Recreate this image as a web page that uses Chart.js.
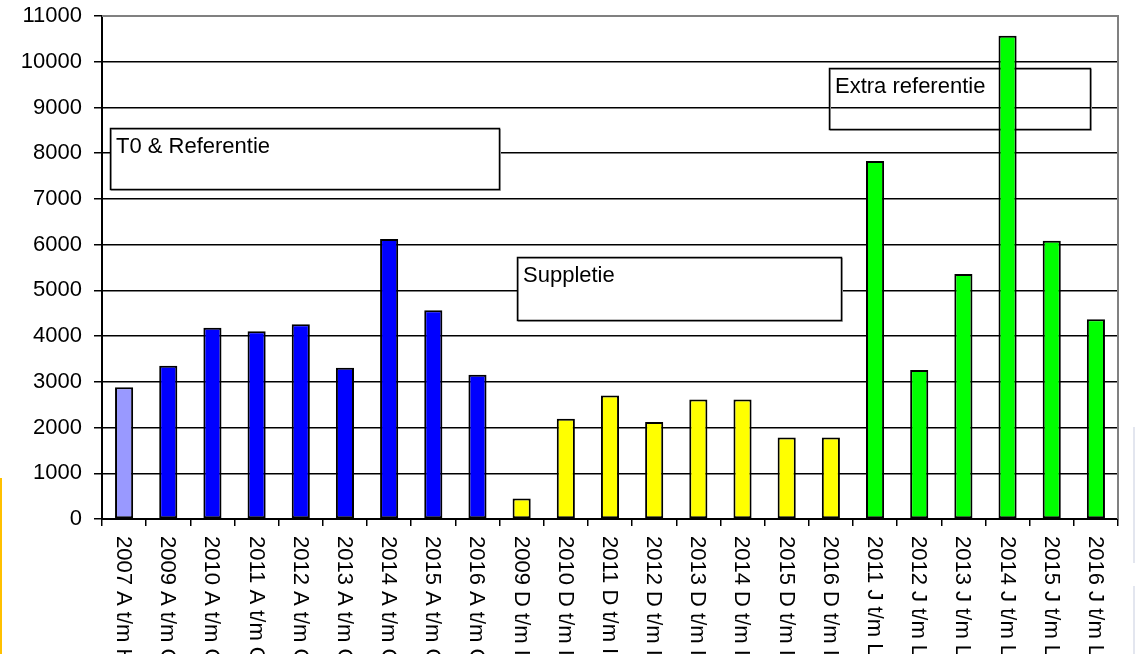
<!DOCTYPE html>
<html>
<head>
<meta charset="utf-8">
<script src="https://cdn.jsdelivr.net/npm/chart.js@4/dist/chart.umd.min.js"></script>
<style>
  html, body { margin: 0; padding: 0; background: #fff; }
  #wrap { position: relative; width: 1135px; height: 654px; overflow: hidden; }
  canvas { display: block; }
</style>
</head>
<body>
<div id="wrap"><canvas id="c" width="1135" height="654"></canvas></div>
<script>
// ---- data ----
const categories = [
  "2007 A t/m H", "2009 A t/m O", "2010 A t/m O", "2011 A t/m O", "2012 A t/m O",
  "2013 A t/m O", "2014 A t/m O", "2015 A t/m O", "2016 A t/m O",
  "2009 D t/m I", "2010 D t/m I", "2011 D t/m I", "2012 D t/m I", "2013 D t/m I",
  "2014 D t/m I", "2015 D t/m I", "2016 D t/m I",
  "2011 J t/m L", "2012 J t/m L", "2013 J t/m L", "2014 J t/m L", "2015 J t/m L", "2016 J t/m L"
];
const values = [
  2880, 3350, 4180, 4105, 4260, 3310, 6125, 4565, 3155,
  450, 2195, 2700, 2120, 2615, 2615, 1780, 1780,
  7830, 3260, 5360, 10570, 6085, 4370
];
const barColors = [
  "#9999FF", "#0000FF", "#0000FF", "#0000FF", "#0000FF", "#0000FF", "#0000FF", "#0000FF", "#0000FF",
  "#FFFF00", "#FFFF00", "#FFFF00", "#FFFF00", "#FFFF00", "#FFFF00", "#FFFF00", "#FFFF00",
  "#00FF00", "#00FF00", "#00FF00", "#00FF00", "#00FF00", "#00FF00"
];
const yTicks = [0, 1000, 2000, 3000, 4000, 5000, 6000, 7000, 8000, 9000, 10000, 11000];
const annotationTexts = ["T0 & Referentie", "Suppletie", "Extra referentie"];

const FONT = "'Liberation Sans', Arial, sans-serif";

const boxesPlugin = {
  id: 'boxes',
  beforeDatasetsDraw(chart) {
    const ctx = chart.ctx;
    const boxes = [
      { x: 110, y: 128, w: 389, h: 61, fill: '#ffffff', text: annotationTexts[0] },
      { x: 517, y: 257, w: 324, h: 63, fill: '#ffffff', text: annotationTexts[1] },
      { x: 829, y: 68, w: 261, h: 61, fill: null, text: annotationTexts[2] }
    ];
    ctx.save();
    boxes.forEach(b => {
      if (b.fill) { ctx.fillStyle = b.fill; ctx.fillRect(b.x, b.y, b.w, b.h); }
      ctx.strokeStyle = '#b0b0b0';
      ctx.lineWidth = 1;
      ctx.strokeRect(b.x + 1.5, b.y + 1.5, b.w, b.h);
      ctx.strokeStyle = '#000';
      ctx.lineWidth = 1.5;
      ctx.strokeRect(b.x + 0.5, b.y + 0.5, b.w, b.h);
      ctx.fillStyle = '#000';
      ctx.font = '22px ' + FONT;
      ctx.textAlign = 'left';
      ctx.textBaseline = 'alphabetic';
      ctx.fillText(b.text, b.x + 6, b.y + 25);
    });
    ctx.restore();
  },
  afterDraw(chart) {
    const ctx = chart.ctx;
    const a = chart.chartArea;
    const xs = chart.scales.x;
    ctx.save();
    ctx.strokeStyle = '#808080';
    ctx.lineWidth = 2;
    ctx.beginPath();
    ctx.moveTo(a.left, a.top);
    ctx.lineTo(a.right, a.top);
    ctx.lineTo(a.right, a.bottom);
    ctx.stroke();
    ctx.fillStyle = '#000';
    ctx.font = '22px ' + FONT;
    ctx.textAlign = 'left';
    ctx.textBaseline = 'middle';
    categories.forEach((lab, i) => {
      const x = xs.getPixelForValue(i);
      ctx.save();
      ctx.translate(x - 1, a.bottom + 17);
      ctx.rotate(Math.PI / 2);
      ctx.fillText(lab, 0, 0);
      ctx.restore();
    });
    ctx.fillStyle = '#FFC000';
    ctx.fillRect(0, 478, 2, 176);
    ctx.fillStyle = '#E3E6EF';
    ctx.fillRect(1133, 427, 2, 136);
    ctx.fillRect(1133, 586, 2, 68);
    ctx.restore();
  }
};

new Chart(document.getElementById('c'), {
  type: 'bar',
  data: {
    labels: categories,
    datasets: [{
      data: values,
      backgroundColor: barColors,
      borderColor: '#000',
      borderWidth: 2,
      borderSkipped: false,
      barPercentage: 0.41,
      categoryPercentage: 1.0
    }]
  },
  options: {
    responsive: false,
    animation: false,
    devicePixelRatio: 1,
    layout: { padding: { top: 16, right: 17, left: 0, bottom: 0 } },
    plugins: { legend: { display: false }, tooltip: { enabled: false }, title: { display: false } },
    scales: {
      x: {
        offset: true,
        ticks: { display: false },
        grid: {
          display: true, drawOnChartArea: false, drawTicks: true,
          tickLength: 7, offset: true, color: '#000', lineWidth: 1.5
        },
        border: { display: true, color: '#000', width: 2 },
        afterFit(scale) { scale.height = 135; }
      },
      y: {
        min: 0, max: 11000,
        afterBuildTicks(scale) { scale.ticks = yTicks.map(v => ({ value: v })); },
        ticks: {
          stepSize: 1000, padding: 12, color: '#000',
          font: { family: FONT, size: 22, lineHeight: 0.6 },
          callback: v => String(v)
        },
        grid: {
          color: ctx => (ctx.tick && ctx.tick.value === 11000) ? '#808080' : '#000',
          tickColor: '#000',
          lineWidth: 1.5, tickLength: 8, drawTicks: true
        },
        border: { display: true, color: '#000', width: 2 },
        afterFit(scale) { scale.width = 102; scale.paddingTop = 0; scale.paddingBottom = 0; }
      }
    }
  },
  plugins: [boxesPlugin]
});
</script>
</body>
</html>
